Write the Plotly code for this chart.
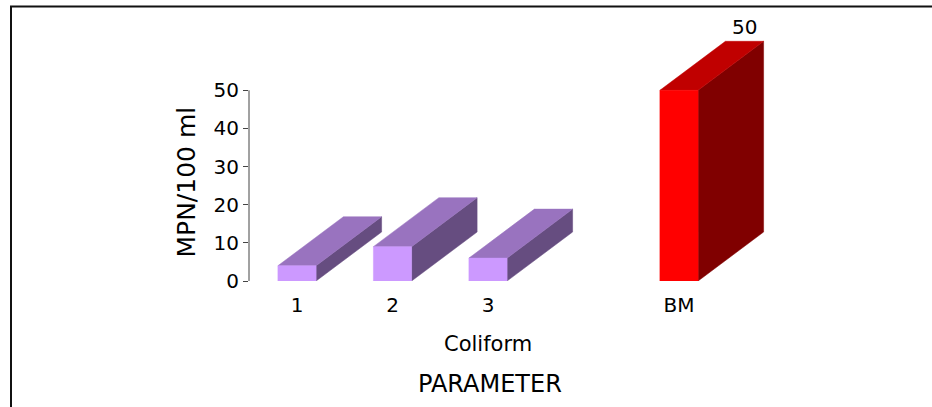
import plotly.graph_objects as go

# Coliform counts (MPN/100 ml) for three samples and the BM reference level
categories = ["1", "2", "3", "BM"]
positions = [1, 2, 3, 5]          # slot 4 is left empty before BM
mpn_values = [4, 9, 6, 50]
series_kind = ["sample", "sample", "sample", "reference"]
y_ticks = [0, 10, 20, 30, 40, 50]
value_labels = [None, None, None, "50"]

# --- page geometry (pixels) ---
W, H = 932, 407
M_L, M_R, M_T, M_B = 249, 32, 14, 126
PLOT_W = W - M_L - M_R
PLOT_H = H - M_T - M_B
X_UNIT = 95.5    # px per x unit
Y_UNIT = 3.814   # px per MPN unit
X_RANGE = [1 - 48 / X_UNIT, 1 - 48 / X_UNIT + PLOT_W / X_UNIT]
Y_RANGE = [0, PLOT_H / Y_UNIT]

# 3-D box geometry in axis units
HALF_W = 0.2
DEPTH_X = 65.5 / X_UNIT
DEPTH_Y = 49.0 / Y_UNIT

# face colours: front, top, side
PALETTE = {
    "sample": ("#CC99FF", "#9973BF", "#664D80"),
    "reference": ("#FF0000", "#C00000", "#800000"),
}

FONT = "DejaVu Sans"


def px_to_paper_x(px):
    return (px - M_L) / PLOT_W


def px_to_paper_y(py):
    return (H - M_B - py) / PLOT_H


def face(xs, ys, color):
    return go.Scatter(
        x=xs + [xs[0]], y=ys + [ys[0]],
        mode="lines", fill="toself", fillcolor=color,
        line=dict(color=color, width=0.5),
        hoverinfo="skip", showlegend=False,
    )


fig = go.Figure()

for cx, v, kind in zip(positions, mpn_values, series_kind):
    front_c, top_c, side_c = PALETTE[kind]
    x0, x1 = cx - HALF_W, cx + HALF_W
    # right side face
    fig.add_trace(face([x1, x1 + DEPTH_X, x1 + DEPTH_X, x1],
                       [0, DEPTH_Y, v + DEPTH_Y, v], side_c))
    # top face
    fig.add_trace(face([x0, x1, x1 + DEPTH_X, x0 + DEPTH_X],
                       [v, v, v + DEPTH_Y, v + DEPTH_Y], top_c))
    # front face
    fig.add_trace(face([x0, x1, x1, x0], [0, 0, v, v], front_c))

annotations = []
for cx, v, lab in zip(positions, mpn_values, value_labels):
    if lab is not None:
        annotations.append(dict(
            x=cx + DEPTH_X, y=v + DEPTH_Y, xref="x", yref="y",
            text=lab, showarrow=False, yanchor="bottom", yshift=0,
            font=dict(family=FONT, size=20, color="#000000"),
        ))

annotations += [
    dict(x=px_to_paper_x(186), y=px_to_paper_y(182.5), xref="paper", yref="paper",
         text="MPN/100 ml", textangle=-90, showarrow=False,
         xanchor="center", yanchor="middle",
         font=dict(family=FONT, size=25, color="#000000")),
    dict(x=3, y=px_to_paper_y(344), xref="x", yref="paper",
         text="Coliform", showarrow=False, xanchor="center", yanchor="middle",
         font=dict(family=FONT, size=21, color="#000000")),
    dict(x=px_to_paper_x(490), y=px_to_paper_y(384), xref="paper", yref="paper",
         text="PARAMETER", showarrow=False, xanchor="center", yanchor="middle",
         font=dict(family=FONT, size=24, color="#000000")),
]

shapes = [
    # value axis line, spanning the labelled range only
    dict(type="line", xref="paper", yref="y", x0=0, x1=0,
         y0=y_ticks[0], y1=y_ticks[-1], line=dict(color="#444444", width=1)),
    # outer frame
    dict(type="rect", xref="paper", yref="paper",
         x0=px_to_paper_x(11), x1=px_to_paper_x(960),
         y0=px_to_paper_y(440), y1=px_to_paper_y(6.5),
         line=dict(color="#111111", width=2), fillcolor="rgba(0,0,0,0)"),
]

fig.update_layout(
    width=W, height=H,
    margin=dict(l=M_L, r=M_R, t=M_T, b=M_B, autoexpand=False),
    paper_bgcolor="#FFFFFF", plot_bgcolor="rgba(0,0,0,0)",
    font=dict(family=FONT, color="#000000"),
    showlegend=False,
    annotations=annotations,
    shapes=shapes,
    xaxis=dict(
        range=X_RANGE, tickmode="array", tickvals=positions, ticktext=categories,
        showgrid=False, zeroline=False, showline=False, ticks="",
        ticklabelstandoff=10,
        tickfont=dict(family=FONT, size=20, color="#000000"), fixedrange=True,
    ),
    yaxis=dict(
        range=Y_RANGE, tickmode="array", tickvals=y_ticks,
        showgrid=False, zeroline=False, showline=False,
        ticks="outside", ticklen=5, tickcolor="#444444", tickwidth=1,
        tickfont=dict(family=FONT, size=20, color="#000000"), fixedrange=True,
    ),
)

fig.write_html("out.html")
